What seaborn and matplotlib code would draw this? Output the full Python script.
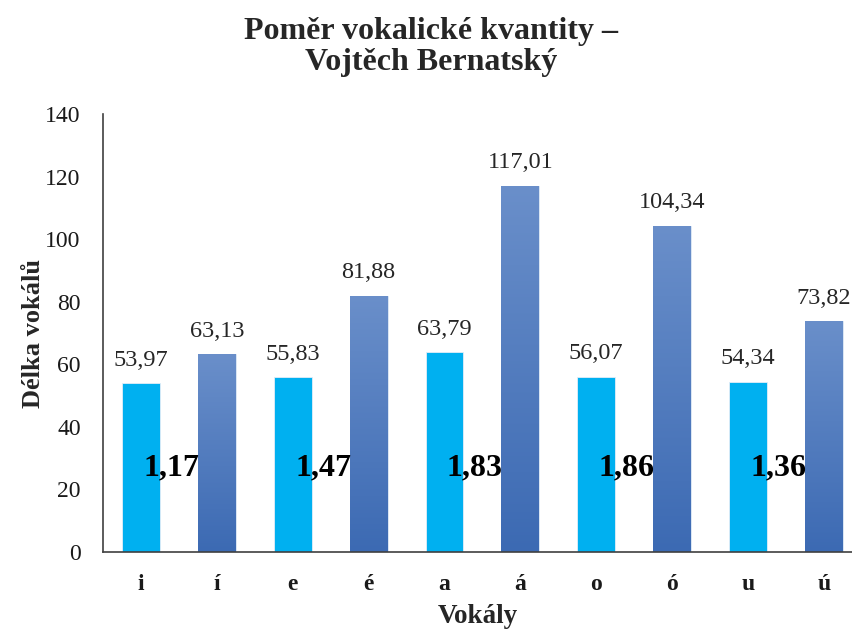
import numpy as np
import pandas as pd
import seaborn as sns
import matplotlib
matplotlib.use('Agg')
import matplotlib.pyplot as plt
from matplotlib.colors import LinearSegmentedColormap

# data
vokaly = ['i', 'í', 'e', 'é', 'a', 'á', 'o', 'ó', 'u', 'ú']
delka = [53.97, 63.13, 55.83, 81.88, 63.79, 117.01, 56.07, 104.34, 54.34, 73.82]
pomer = ['1,17', '1,47', '1,83', '1,86', '1,36']

df = pd.DataFrame({'Vokál': vokaly, 'Délka': delka})

sns.set_style('white')
plt.rcParams['font.family'] = ['Liberation Serif', 'DejaVu Serif']

fig = plt.figure(figsize=(8.52, 6.32), dpi=100)
ax = fig.add_axes([103 / 852, 80 / 632, 1 - 103 / 852, 438 / 632])

# short vowels cyan, long vowels blue (gradient added below)
barvy = ['#00B0F0' if i % 2 == 0 else '#4F7DC0' for i in range(len(vokaly))]
sns.barplot(data=df, x='Vokál', y='Délka', hue='Vokál', palette=barvy,
            legend=False, width=0.5, ax=ax, saturation=1)

# gradient fill for long vowel bars
cmap = LinearSegmentedColormap.from_list('grad', ['#3C6AB3', '#6A8FCA'])
grad = np.linspace(1, 0, 256).reshape(-1, 1)
for i, bar in enumerate(ax.patches):
    bar.set_edgecolor('#e3edf8')
    bar.set_linewidth(0.6)
    if i % 2 == 1:
        x0 = bar.get_x()
        w = bar.get_width()
        h = bar.get_height()
        img = ax.imshow(grad, extent=[x0, x0 + w, 0, h], cmap=cmap,
                        aspect='auto', zorder=bar.get_zorder() + 0.1,
                        interpolation='bicubic')
        img.set_clip_path(bar)

# value labels above bars
for i, bar in enumerate(ax.patches):
    ax.annotate(f'{delka[i]:.2f}'.replace('.', ','),
                (bar.get_x() + bar.get_width() / 2, bar.get_height()),
                xytext=(0, 9), textcoords='offset points',
                ha='center', va='bottom', fontsize=17.5, color='#262626')

# ratio labels between the pairs
for k, p in enumerate(pomer):
    ax.text(2 * k + 0.5 - 0.1, 27, p, ha='center', va='center',
            fontsize=23, fontweight='bold', color='black', zorder=10)

ax.set_xlim(-0.5, 9.37)
ax.set_ylim(0, 140)
ax.set_yticks(range(0, 141, 20))
ax.tick_params(axis='both', length=0, labelsize=17, labelcolor='#1a1a1a')
ax.tick_params(axis='y', pad=16)
ax.tick_params(axis='x', pad=16)
for lab in ax.get_xticklabels():
    lab.set_fontweight('bold')

ax.set_xlabel('Vokály', fontsize=19.5, fontweight='bold', labelpad=6)
ax.set_ylabel('Délka vokálů', fontsize=19, fontweight='bold', labelpad=0)

for s in ['top', 'right']:
    ax.spines[s].set_visible(False)
for s in ['left', 'bottom']:
    ax.spines[s].set_color('#404040')
    ax.spines[s].set_linewidth(1.2)

fig.text(0.5 + 5 / 852, 1 - 47 / 632, 'Poměr vokalické kvantity –\nVojtěch Bernatský',
         ha='center', va='center', fontsize=23, fontweight='bold',
         linespacing=1.1)

fig.savefig('out.png', dpi=100)
